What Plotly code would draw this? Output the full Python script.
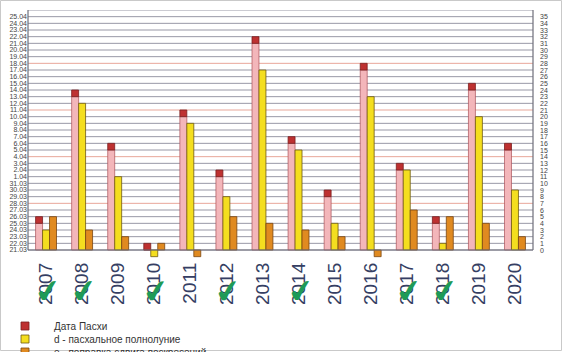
import plotly.graph_objects as go

years = [2007, 2008, 2009, 2010, 2011, 2012, 2013,
         2014, 2015, 2016, 2017, 2018, 2019, 2020]
# Easter date, counted in days after 21.03 (left axis)
easter_days = [5, 24, 16, 1, 21, 12, 32, 17, 9, 28, 13, 5, 25, 16]
# d - paschal full moon (right axis)
d_values = [3, 22, 11, -1, 19, 8, 27, 15, 4, 23, 12, 1, 20, 9]
# e - Sunday shift correction (right axis)
e_values = [5, 3, 2, 1, -1, 5, 4, 3, 2, -1, 6, 5, 4, 2]
checked_years = [2007, 2008, 2010, 2012, 2014, 2017, 2018]

date_labels = ["21.03", "22.03", "23.03", "24.03", "25.03", "26.03", "27.03",
               "28.03", "29.03", "30.03", "31.03", "1.04", "2.04", "3.04",
               "4.04", "5.04", "6.04", "7.04", "8.04", "9.04", "10.04", "11.04",
               "12.04", "13.04", "14.04", "15.04", "16.04", "17.04", "18.04",
               "19.04", "20.04", "21.04", "22.04", "23.04", "24.04", "25.04"]
right_labels = [str(i) for i in range(36)]
legend_labels = ["Дата Пасхи", "d - пасхальное полнолуние",
                 "e - поправка сдвига воскресений"]

PINK = "rgb(243,182,186)"
RED = "rgb(190,49,49)"
YELLOW = "rgb(244,222,31)"
ORANGE = "rgb(224,138,32)"

pink_part = [v - 1 for v in easter_days]
cap_part = [1 for _ in easter_days]

fig = go.Figure()
fig.add_bar(x=years, y=pink_part, offsetgroup="a", marker_color=PINK,
            marker_line=dict(color="rgb(170,80,88)", width=0.7),
            showlegend=False)
fig.add_bar(x=years, y=cap_part, base=pink_part, offsetgroup="a",
            marker_color=RED,
            marker_line=dict(color="#7A1F1F", width=0.8), showlegend=False)
fig.add_bar(x=years, y=d_values, offsetgroup="b", marker_color=YELLOW,
            marker_line=dict(color="#6E5A12", width=0.8), showlegend=False)
fig.add_bar(x=years, y=e_values, offsetgroup="c", marker_color=ORANGE,
            marker_line=dict(color="#7A4510", width=0.8), showlegend=False)

L, R, T, B = 28, 30, 10, 94
W, H = 563, 352
pw, ph = W - L - R, H - T - B


def px_x(px):
    return (px - L) / pw


def px_y(py):
    return (H - B - py) / ph


shapes = []
# horizontal grid lines: grey every day, salmon every week
for v in range(37):
    col = "#E8A79A" if v in (7, 14, 21, 28) else "#9898A6"
    shapes.append(dict(type="line", xref="paper", yref="y", x0=0, x1=1,
                       y0=v, y1=v, line=dict(color=col, width=1),
                       layer="below"))
# frame
shapes.append(dict(type="line", xref="paper", yref="y", x0=0, x1=1, y0=0, y1=0,
                   line=dict(color="#6E6E7A", width=1.2), layer="above"))
for xx in [0, 1]:
    shapes.append(dict(type="line", xref="paper", yref="y", x0=xx, x1=xx,
                       y0=0, y1=36, line=dict(color="#6E6E7A", width=1.2),
                       layer="above"))
# outer border of the picture
shapes.append(dict(type="rect", xref="paper", yref="paper",
                   x0=px_x(0.5), x1=px_x(W - 1.5), y0=px_y(0.5), y1=px_y(H - 1.5),
                   line=dict(color="#C9C9C9", width=1)))

annotations = []
# right-hand value axis labels
for i, lab in enumerate(right_labels):
    annotations.append(dict(xref="paper", yref="y", x=1, y=i, xshift=5,
                            text=lab, showarrow=False, xanchor="left",
                            yanchor="middle",
                            font=dict(size=7, color="#444444",
                                      family="Liberation Sans, Arial")))
# legend (drawn manually)
leg_colors = [RED, YELLOW, ORANGE]
leg_lines = ["#7A1F1F", "#6E5A12", "#7A4510"]
for i, (lab, col, lc) in enumerate(zip(legend_labels, leg_colors, leg_lines)):
    cy = 326 + 13 * i
    shapes.append(dict(type="rect", xref="paper", yref="paper",
                       x0=px_x(21), x1=px_x(29), y0=px_y(cy - 4), y1=px_y(cy + 4),
                       fillcolor=col, line=dict(color=lc, width=0.8)))
    annotations.append(dict(xref="paper", yref="paper", x=px_x(52), y=px_y(cy),
                            text=lab, showarrow=False, xanchor="left",
                            yanchor="middle",
                            font=dict(size=10, color="#333333",
                                      family="Liberation Sans, Arial")))
# green check marks over the years
for yr in checked_years:
    annotations.append(dict(xref="x", yref="paper", x=yr, y=px_y(291),
                            text="✔", showarrow=False, xanchor="center",
                            yanchor="middle", xshift=2, textangle=-10,
                            font=dict(size=31, color="#1E9A57",
                                      family="DejaVu Sans")))

fig.update_layout(
    width=W, height=H,
    margin=dict(l=L, r=R, t=T, b=B),
    paper_bgcolor="white", plot_bgcolor="white",
    barmode="group", bargap=0.42, bargroupgap=0,
    shapes=shapes, annotations=annotations,
    xaxis=dict(range=[years[0] - 0.5, years[-1] + 0.5], tickmode="array",
               tickvals=years, ticktext=[str(y) for y in years],
               tickangle=-90, showgrid=False, showline=False, zeroline=False,
               ticks="", tickfont=dict(size=19, color="#353E63",
                                       family="Liberation Sans, Arial")),
    yaxis=dict(range=[-1.2, 36], tickmode="array",
               tickvals=list(range(36)), ticktext=date_labels,
               showgrid=False, zeroline=False, showline=False, ticks="",
               tickfont=dict(size=7, color="#444444",
                             family="Liberation Sans, Arial")),
)

fig.write_html("out.html")
